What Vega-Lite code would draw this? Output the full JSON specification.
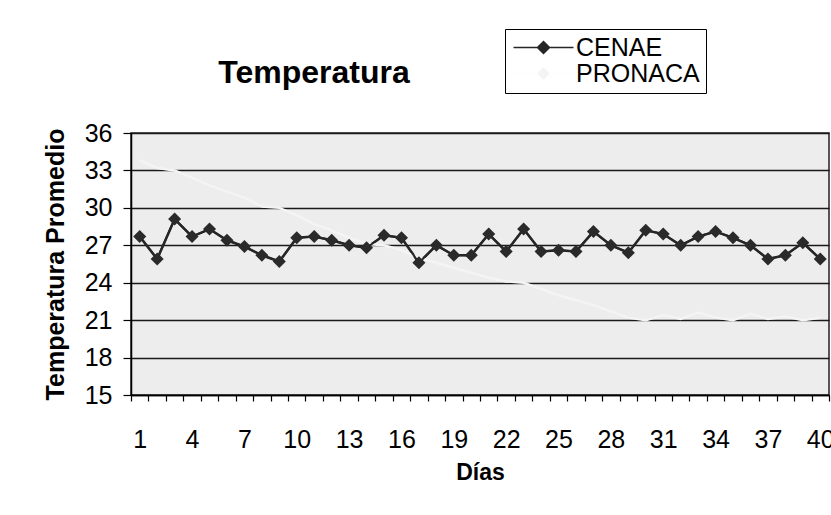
{
  "$schema": "https://vega.github.io/schema/vega-lite/v6.json",
  "width": 698,
  "height": 262,
  "autosize": {"type": "none"},
  "padding": {"left": 131, "top": 133, "right": 2, "bottom": 120},
  "background": "white",
  "title": {
    "text": "Temperatura",
    "anchor": "start",
    "frame": "group",
    "align": "center",
    "baseline": "alphabetic",
    "dx": 183,
    "offset": 0,
    "dy": 86,
    "fontSize": 32,
    "fontWeight": "bold",
    "font": "Liberation Sans",
    "color": "black"
  },
  "datasets": {
    "temps": [
      {"dia": 1, "serie": "CENAE", "temp": 27.7},
      {"dia": 2, "serie": "CENAE", "temp": 25.9},
      {"dia": 3, "serie": "CENAE", "temp": 29.1},
      {"dia": 4, "serie": "CENAE", "temp": 27.7},
      {"dia": 5, "serie": "CENAE", "temp": 28.3},
      {"dia": 6, "serie": "CENAE", "temp": 27.4},
      {"dia": 7, "serie": "CENAE", "temp": 26.9},
      {"dia": 8, "serie": "CENAE", "temp": 26.2},
      {"dia": 9, "serie": "CENAE", "temp": 25.7},
      {"dia": 10, "serie": "CENAE", "temp": 27.6},
      {"dia": 11, "serie": "CENAE", "temp": 27.7},
      {"dia": 12, "serie": "CENAE", "temp": 27.4},
      {"dia": 13, "serie": "CENAE", "temp": 27.0},
      {"dia": 14, "serie": "CENAE", "temp": 26.8},
      {"dia": 15, "serie": "CENAE", "temp": 27.8},
      {"dia": 16, "serie": "CENAE", "temp": 27.6},
      {"dia": 17, "serie": "CENAE", "temp": 25.6},
      {"dia": 18, "serie": "CENAE", "temp": 27.0},
      {"dia": 19, "serie": "CENAE", "temp": 26.2},
      {"dia": 20, "serie": "CENAE", "temp": 26.2},
      {"dia": 21, "serie": "CENAE", "temp": 27.9},
      {"dia": 22, "serie": "CENAE", "temp": 26.5},
      {"dia": 23, "serie": "CENAE", "temp": 28.3},
      {"dia": 24, "serie": "CENAE", "temp": 26.5},
      {"dia": 25, "serie": "CENAE", "temp": 26.6},
      {"dia": 26, "serie": "CENAE", "temp": 26.5},
      {"dia": 27, "serie": "CENAE", "temp": 28.1},
      {"dia": 28, "serie": "CENAE", "temp": 27.0},
      {"dia": 29, "serie": "CENAE", "temp": 26.4},
      {"dia": 30, "serie": "CENAE", "temp": 28.2},
      {"dia": 31, "serie": "CENAE", "temp": 27.9},
      {"dia": 32, "serie": "CENAE", "temp": 27.0},
      {"dia": 33, "serie": "CENAE", "temp": 27.7},
      {"dia": 34, "serie": "CENAE", "temp": 28.1},
      {"dia": 35, "serie": "CENAE", "temp": 27.6},
      {"dia": 36, "serie": "CENAE", "temp": 27.0},
      {"dia": 37, "serie": "CENAE", "temp": 25.9},
      {"dia": 38, "serie": "CENAE", "temp": 26.2},
      {"dia": 39, "serie": "CENAE", "temp": 27.2},
      {"dia": 40, "serie": "CENAE", "temp": 25.9},
      {"dia": 1, "serie": "PRONACA", "temp": 33.8},
      {"dia": 2, "serie": "PRONACA", "temp": 33.2},
      {"dia": 3, "serie": "PRONACA", "temp": 33.0},
      {"dia": 4, "serie": "PRONACA", "temp": 32.4},
      {"dia": 5, "serie": "PRONACA", "temp": 31.8},
      {"dia": 6, "serie": "PRONACA", "temp": 31.3},
      {"dia": 7, "serie": "PRONACA", "temp": 30.8},
      {"dia": 8, "serie": "PRONACA", "temp": 30.1},
      {"dia": 9, "serie": "PRONACA", "temp": 30.0},
      {"dia": 10, "serie": "PRONACA", "temp": 29.4},
      {"dia": 11, "serie": "PRONACA", "temp": 28.7},
      {"dia": 12, "serie": "PRONACA", "temp": 28.2},
      {"dia": 13, "serie": "PRONACA", "temp": 27.6},
      {"dia": 14, "serie": "PRONACA", "temp": 27.1},
      {"dia": 15, "serie": "PRONACA", "temp": 27.0},
      {"dia": 16, "serie": "PRONACA", "temp": 26.6},
      {"dia": 17, "serie": "PRONACA", "temp": 26.0},
      {"dia": 18, "serie": "PRONACA", "temp": 25.6},
      {"dia": 19, "serie": "PRONACA", "temp": 25.2},
      {"dia": 20, "serie": "PRONACA", "temp": 24.8},
      {"dia": 21, "serie": "PRONACA", "temp": 24.4},
      {"dia": 22, "serie": "PRONACA", "temp": 24.1},
      {"dia": 23, "serie": "PRONACA", "temp": 24.0},
      {"dia": 24, "serie": "PRONACA", "temp": 23.5},
      {"dia": 25, "serie": "PRONACA", "temp": 23.0},
      {"dia": 26, "serie": "PRONACA", "temp": 22.6},
      {"dia": 27, "serie": "PRONACA", "temp": 22.2},
      {"dia": 28, "serie": "PRONACA", "temp": 21.7},
      {"dia": 29, "serie": "PRONACA", "temp": 21.2},
      {"dia": 30, "serie": "PRONACA", "temp": 21.0},
      {"dia": 31, "serie": "PRONACA", "temp": 21.4},
      {"dia": 32, "serie": "PRONACA", "temp": 21.1},
      {"dia": 33, "serie": "PRONACA", "temp": 21.6},
      {"dia": 34, "serie": "PRONACA", "temp": 21.2},
      {"dia": 35, "serie": "PRONACA", "temp": 21.0},
      {"dia": 36, "serie": "PRONACA", "temp": 21.5},
      {"dia": 37, "serie": "PRONACA", "temp": 21.1},
      {"dia": 38, "serie": "PRONACA", "temp": 21.3},
      {"dia": 39, "serie": "PRONACA", "temp": 21.0},
      {"dia": 40, "serie": "PRONACA", "temp": 21.2}
    ]
  },
  "data": {"name": "temps"},
  "encoding": {
    "x": {
      "field": "dia",
      "type": "ordinal",
      "scale": {"type": "band", "paddingInner": 0, "paddingOuter": 0},
      "axis": {
        "title": "Días",
        "titleFontSize": 23,
        "titleFontWeight": "bold",
        "titleFont": "Liberation Sans",
        "titleColor": "black",
        "titleBaseline": "top",
        "titleY": 66,
        "labelExpr": "(datum.value - 1) % 3 == 0 ? datum.label : ''",
        "labelAngle": 0,
        "labelFontSize": 25,
        "labelFont": "Liberation Sans",
        "labelColor": "black",
        "labelOverlap": false,
        "labelPadding": 26,
        "tickBand": "extent",
        "tickSize": 6,
        "tickColor": "black",
        "tickWidth": 1.2,
        "domainColor": "black",
        "domainWidth": 1.5,
        "grid": false
      }
    },
    "y": {
      "field": "temp",
      "type": "quantitative",
      "scale": {"domain": [15, 36], "nice": false, "zero": false},
      "axis": {
        "title": "Temperatura Promedio",
        "titleFontSize": 25,
        "titleFontWeight": "bold",
        "titleFont": "Liberation Sans",
        "titleColor": "black",
        "titlePadding": 16,
        "values": [15, 18, 21, 24, 27, 30, 33, 36],
        "labelFontSize": 25,
        "labelFont": "Liberation Sans",
        "labelColor": "black",
        "labelPadding": 11,
        "tickSize": 8,
        "tickColor": "black",
        "tickWidth": 1.2,
        "domainColor": "black",
        "domainWidth": 1.5,
        "grid": true,
        "gridColor": "#1a1a1a",
        "gridWidth": 1.5
      }
    }
  },
  "layer": [
    {
      "mark": {"type": "line", "strokeWidth": 2.5},
      "encoding": {
        "color": {
          "field": "serie",
          "type": "nominal",
          "scale": {"domain": ["CENAE", "PRONACA"], "range": ["#262626", "#f4f4f4"]},
          "legend": {
            "title": null,
            "orient": "none",
            "legendX": 374,
            "legendY": -104,
            "direction": "vertical",
            "labelFontSize": 25,
            "labelFont": "Liberation Sans",
            "labelColor": "black",
            "symbolType": "M-3,0H3M0,-0.6L0.6,0L0,0.6L-0.6,0Z",
            "symbolSize": 400,
            "symbolStrokeWidth": 1.5,
            "symbolOffset": 20,
            "labelOffset": 20,
            "strokeColor": "black",
            "fillColor": "white",
            "padding": 6,
            "rowPadding": 0,
            "encode": {"symbols": {"update": {"fill": {"scale": "color", "field": "value"}, "stroke": {"value": "#262626"}, "strokeOpacity": {"signal": "datum.value == 'PRONACA' ? 0.25 : 1"}}}}
          }
        }
      }
    },
    {
      "transform": [{"filter": "datum.serie == 'CENAE'"}],
      "mark": {"type": "line", "strokeWidth": 2, "color": "#262626"}
    },
    {
      "transform": [{"filter": "datum.serie == 'CENAE'"}],
      "mark": {"type": "point", "shape": "diamond", "filled": true, "size": 170, "color": "#2a2a2a", "opacity": 1}
    }
  ],
  "config": {
    "view": {"stroke": "#222222", "strokeWidth": 1.5, "fill": "#ededed"}
  }
}
